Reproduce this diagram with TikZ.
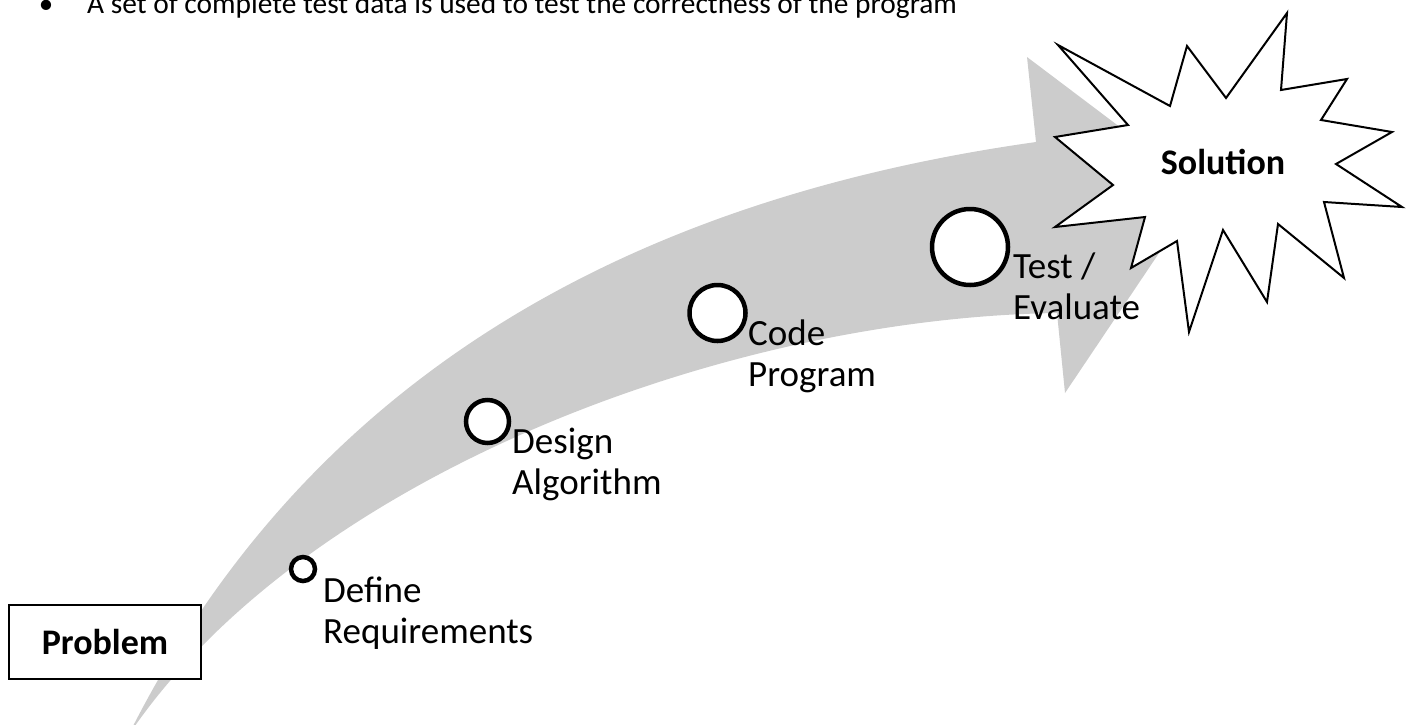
\documentclass[tikz,border=0pt]{standalone}
\usepackage{fontspec}
\setmainfont{Carlito}
\begin{document}
\begin{tikzpicture}[x=1pt,y=-1pt,
  band/.style={fill=black!20},
  stepdot/.style={circle,draw=black,fill=white,line width=4.5pt,inner sep=0pt},
  lbl/.style={anchor=base west,inner sep=0pt,font=\fontsize{37}{45}\selectfont},
  boldlbl/.style={inner sep=0pt,font=\fontsize{36}{44}\selectfont\bfseries},
  burst/.style={draw=black,fill=white,line width=2pt,line join=miter},
  note/.style={anchor=base west,inner sep=0pt,font=\fontsize{29.4}{35}\selectfont}]
\useasboundingbox (0,0) rectangle (1410,724);

% curved progress arrow
\fill[band] (128,736) .. controls (318,356) and (660,195) .. (1036,142)
  -- (1027,57) -- (1202,189) -- (1065,393) -- (1057,313)
  .. controls (720,318) and (300,480) .. (128,736) -- cycle;

% heading bullet line
\node[anchor=base,inner sep=0pt,font=\fontsize{29}{35}\selectfont] (bullet) at (46,13.5) {•};
\node[note] (notetext) at (87,13.5) {A set of complete test data is used to test the correctness of the program};

% starting box
\node[draw=black,line width=2pt,fill=white,minimum width=192pt,minimum height=74pt,inner sep=0pt] (problem) at (105,642) {};
\node[boldlbl] (problemtext) at (problem.center) {Problem};

% milestones
\node[stepdot,minimum size=24pt] (s1) at (303,569) {};
\node[stepdot,minimum size=43pt] (s2) at (487.5,421.5) {};
\node[stepdot,minimum size=56pt] (s3) at (717.5,313) {};
\node[stepdot,minimum size=76pt] (s4) at (970,247) {};

\node[lbl] (l1a) at (323,602) {Define};
\node[lbl] (l1b) at (323,643) {Requirements};
\node[lbl] (l2a) at (512,453) {Design};
\node[lbl] (l2b) at (512,494) {Algorithm};
\node[lbl] (l3a) at (748,345) {Code};
\node[lbl] (l3b) at (748,386) {Program};
\node[lbl] (l4a) at (1013,278) {Test /};
\node[lbl] (l4b) at (1013,319) {Evaluate};

% goal burst
\draw[burst] (1058,45) -- (1170,106) -- (1187,46) -- (1226,98) -- (1287,13)
  -- (1281,90) -- (1347,79) -- (1321,120) -- (1392,132) -- (1336,164)
  -- (1402,207) -- (1324,202) -- (1344,278) -- (1278,224) -- (1267,302)
  -- (1223,230) -- (1189,332) -- (1177,241) -- (1131,268) -- (1145,217)
  -- (1055,227) -- (1113,185) -- (1055,137) -- (1128,125) -- cycle;
\node[boldlbl] (solution) at (1223,162) {Solution};
\end{tikzpicture}
\end{document}
